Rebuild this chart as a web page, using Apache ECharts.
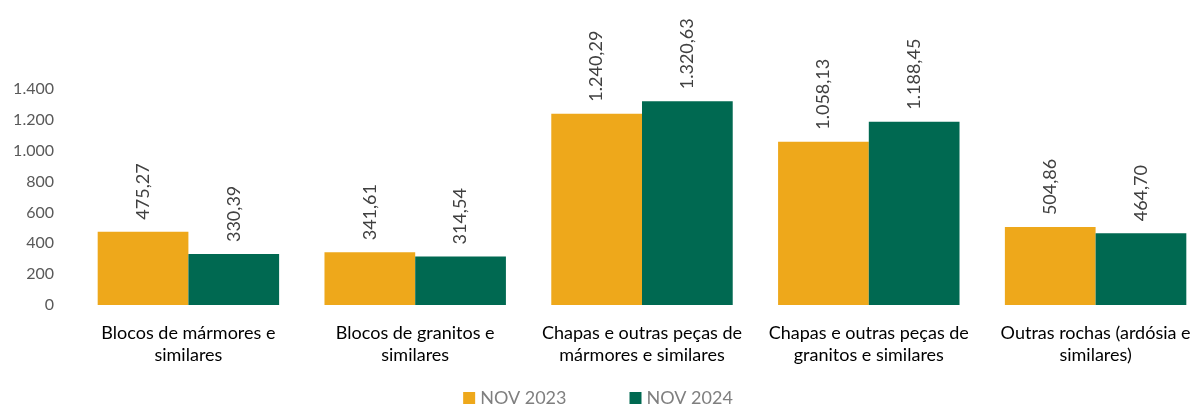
<!DOCTYPE html>
<html>
<head>
<meta charset="utf-8">
<script src="https://cdn.jsdelivr.net/npm/echarts@6/dist/echarts.min.js"></script>
<style>
  html, body { margin: 0; padding: 0; background: #fff; }
  #chart { width: 1196px; height: 412px; }
</style>
</head>
<body>
<div id="chart"></div>
<script>
// categorias e valores
const categories = [
  'Blocos de mármores e\nsimilares',
  'Blocos de granitos e\nsimilares',
  'Chapas e outras peças de\nmármores e similares',
  'Chapas e outras peças de\ngranitos e similares',
  'Outras rochas (ardósia e\nsimilares)'
];
const nov2023 = [475.27, 341.61, 1240.29, 1058.13, 504.86];
const nov2024 = [330.39, 314.54, 1320.63, 1188.45, 464.70];
const seriesNames = ['NOV 2023', 'NOV 2024'];

const font = 'Lato, "Noto Sans", sans-serif';

// formato pt-BR: 1.240,29
function fmtNum(v, dec) {
  const parts = v.toFixed(dec).split('.');
  parts[0] = parts[0].replace(/\B(?=(\d{3})+(?!\d))/g, '.');
  return parts.join(',');
}

const chart = echarts.init(document.getElementById('chart'));

const barLabel = {
  show: true,
  position: 'top',
  rotate: 90,
  align: 'left',
  verticalAlign: 'middle',
  distance: 12,
  color: '#404040',
  fontFamily: font,
  fontSize: 18,
  formatter: p => fmtNum(p.value, 2)
};

const option = {
  animation: false,
  grid: { left: 75, right: -13, top: 89, bottom: 107, outerBoundsMode: 'none', containLabel: false },
  legend: {
    bottom: 0,
    left: 'center',
    itemWidth: 12,
    itemHeight: 12,
    itemGap: 63,
    icon: 'rect',
    textStyle: { color: '#7f7f7f', fontFamily: font, fontSize: 18 },
    data: seriesNames
  },
  xAxis: {
    type: 'category',
    data: categories,
    axisLine: { show: false },
    axisTick: { show: false },
    axisLabel: {
      interval: 0,
      margin: 17,
      color: '#000',
      fontFamily: font,
      fontSize: 18,
      lineHeight: 22
    }
  },
  yAxis: {
    type: 'value',
    min: 0,
    max: 1400,
    interval: 200,
    splitLine: { show: false },
    axisLine: { show: false },
    axisTick: { show: false },
    axisLabel: {
      margin: 21,
      color: '#595959',
      fontFamily: font,
      fontSize: 16,
      formatter: v => fmtNum(v, 0)
    }
  },
  series: [
    {
      name: seriesNames[0],
      type: 'bar',
      data: nov2023,
      barGap: '0%',
      barCategoryGap: '20%',
      itemStyle: { color: '#EEA81B' },
      label: barLabel
    },
    {
      name: seriesNames[1],
      type: 'bar',
      data: nov2024,
      itemStyle: { color: '#006951' },
      label: barLabel
    }
  ]
};

chart.setOption(option);
window.addEventListener('resize', () => chart.resize());
</script>
</body>
</html>
